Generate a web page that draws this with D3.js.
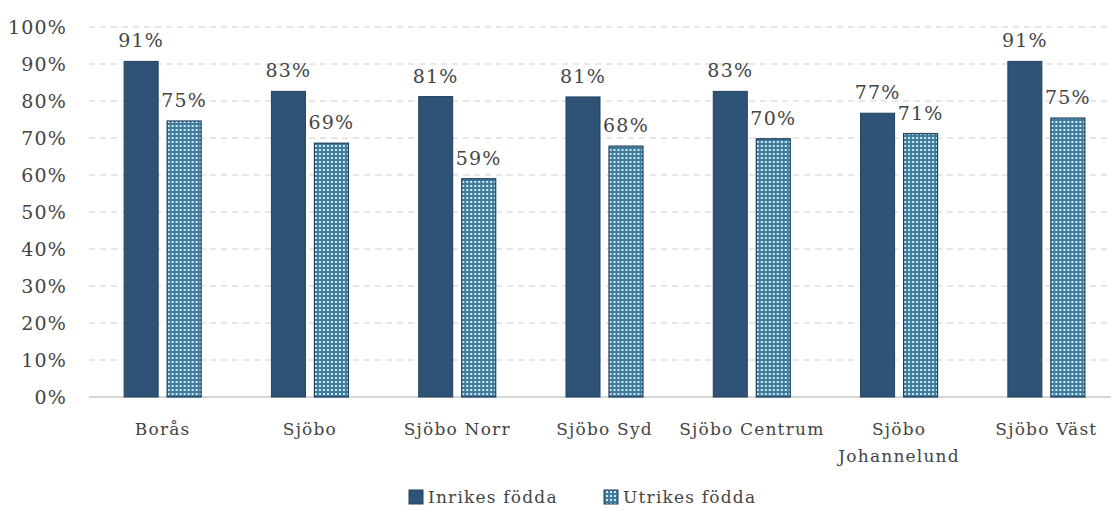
<!DOCTYPE html>
<html>
<head>
<meta charset="utf-8">
<script src="https://cdn.jsdelivr.net/npm/d3@7"></script>
<style>
  body { margin: 0; background: #fff; }
  text { font-family: "DejaVu Serif", serif; fill: #444; letter-spacing: 1.2px; }
</style>
</head>
<body>
<div id="container"></div>
<script>
const categories = ['Borås', 'Sjöbo', 'Sjöbo Norr', 'Sjöbo Syd', 'Sjöbo Centrum', 'Sjöbo Johannelund', 'Sjöbo Väst'];
const seriesNames = ['Inrikes födda', 'Utrikes födda'];
const inrikes = [0.907, 0.826, 0.812, 0.811, 0.826, 0.767, 0.907];
const utrikes = [0.746, 0.686, 0.590, 0.678, 0.698, 0.712, 0.754];
const yTicks = [0, 0.1, 0.2, 0.3, 0.4, 0.5, 0.6, 0.7, 0.8, 0.9, 1.0];

const width = 1111, height = 511;
const margin = { top: 27, bottom: 114, left: 89, right: -9 };

const svg = d3.select('#container').append('svg')
  .attr('width', width).attr('height', height);

const defs = svg.append('defs');
const pat = defs.append('pattern')
  .attr('id', 'dots').attr('patternUnits', 'userSpaceOnUse')
  .attr('width', 4).attr('height', 4);
pat.append('rect').attr('width', 4).attr('height', 4).attr('fill', '#3f7c9e');
pat.append('rect').attr('x', 1).attr('y', 1).attr('width', 2).attr('height', 2).attr('fill', '#d3e8f0');

const x = d3.scaleBand().domain(categories)
  .range([margin.left, width - margin.right]).paddingInner(0).paddingOuter(0);
const y = d3.scaleLinear().domain([0, 1]).range([height - margin.bottom, margin.top]);

// gridlines
svg.append('g').selectAll('line').data(yTicks.slice(1)).join('line')
  .attr('x1', margin.left).attr('x2', width)
  .attr('y1', d => y(d)).attr('y2', d => y(d))
  .attr('stroke', '#cfcfcf').attr('stroke-width', 1).attr('stroke-dasharray', '6,5');

// y axis labels
const yAxis = d3.axisLeft(y).tickValues(yTicks).tickFormat(d3.format('.0%')).tickSize(0).tickPadding(22);
const yg = svg.append('g').attr('transform', `translate(${margin.left},0)`).call(yAxis);
yg.select('.domain').remove();
yg.selectAll('text').attr('font-size', 19).attr('font-family', '"DejaVu Serif", serif').attr('fill', '#444').attr('dy', '0.36em');

// baseline
svg.append('line').attr('x1', margin.left).attr('x2', width)
  .attr('y1', y(0)).attr('y2', y(0)).attr('stroke', '#c8c8c8').attr('stroke-width', 1.5);

const barW = 34, gap = 9;
const groups = svg.append('g').selectAll('g').data(categories).join('g')
  .attr('transform', d => `translate(${x(d) + x.bandwidth() / 2},0)`);

const fmt = v => Math.round(v * 100) + '%';

groups.append('rect')
  .attr('x', -gap / 2 - barW).attr('width', barW)
  .attr('y', (d, i) => y(inrikes[i])).attr('height', (d, i) => y(0) - y(inrikes[i]))
  .attr('fill', '#2f5376').attr('stroke', '#22405e').attr('stroke-width', 1);
groups.append('rect')
  .attr('x', gap / 2).attr('width', barW)
  .attr('y', (d, i) => y(utrikes[i])).attr('height', (d, i) => y(0) - y(utrikes[i]))
  .attr('fill', 'url(#dots)').attr('stroke', '#22405e').attr('stroke-width', 1.2);

groups.append('text')
  .attr('x', -gap / 2 - barW / 2).attr('y', (d, i) => y(inrikes[i]) - 14)
  .attr('text-anchor', 'middle').attr('font-size', 19).text((d, i) => fmt(inrikes[i]));
groups.append('text')
  .attr('x', gap / 2 + barW / 2).attr('y', (d, i) => y(utrikes[i]) - 14)
  .attr('text-anchor', 'middle').attr('font-size', 19).text((d, i) => fmt(utrikes[i]));

// category labels (wrap long ones)
groups.each(function (d) {
  const t = d3.select(this).append('text').attr('text-anchor', 'middle').attr('font-size', 17)
    .attr('y', y(0) + 38);
  const lines = d === 'Sjöbo Johannelund' ? ['Sjöbo', 'Johannelund'] : [d];
  lines.forEach((l, i) => t.append('tspan').attr('x', 0).attr('dy', i ? 27 : 0).text(l));
});

// legend
const legend = svg.append('g').attr('transform', 'translate(409,490)');
const items = [
  { name: seriesNames[0], fill: '#2f5376', x: 0 },
  { name: seriesNames[1], fill: 'url(#dots)', x: 195 }
];
items.forEach(it => {
  legend.append('rect').attr('x', it.x).attr('y', 0).attr('width', 14).attr('height', 14)
    .attr('fill', it.fill).attr('stroke', '#22405e');
  legend.append('text').attr('x', it.x + 19).attr('y', 13).attr('font-size', 17).text(it.name);
});
</script>
</body>
</html>
